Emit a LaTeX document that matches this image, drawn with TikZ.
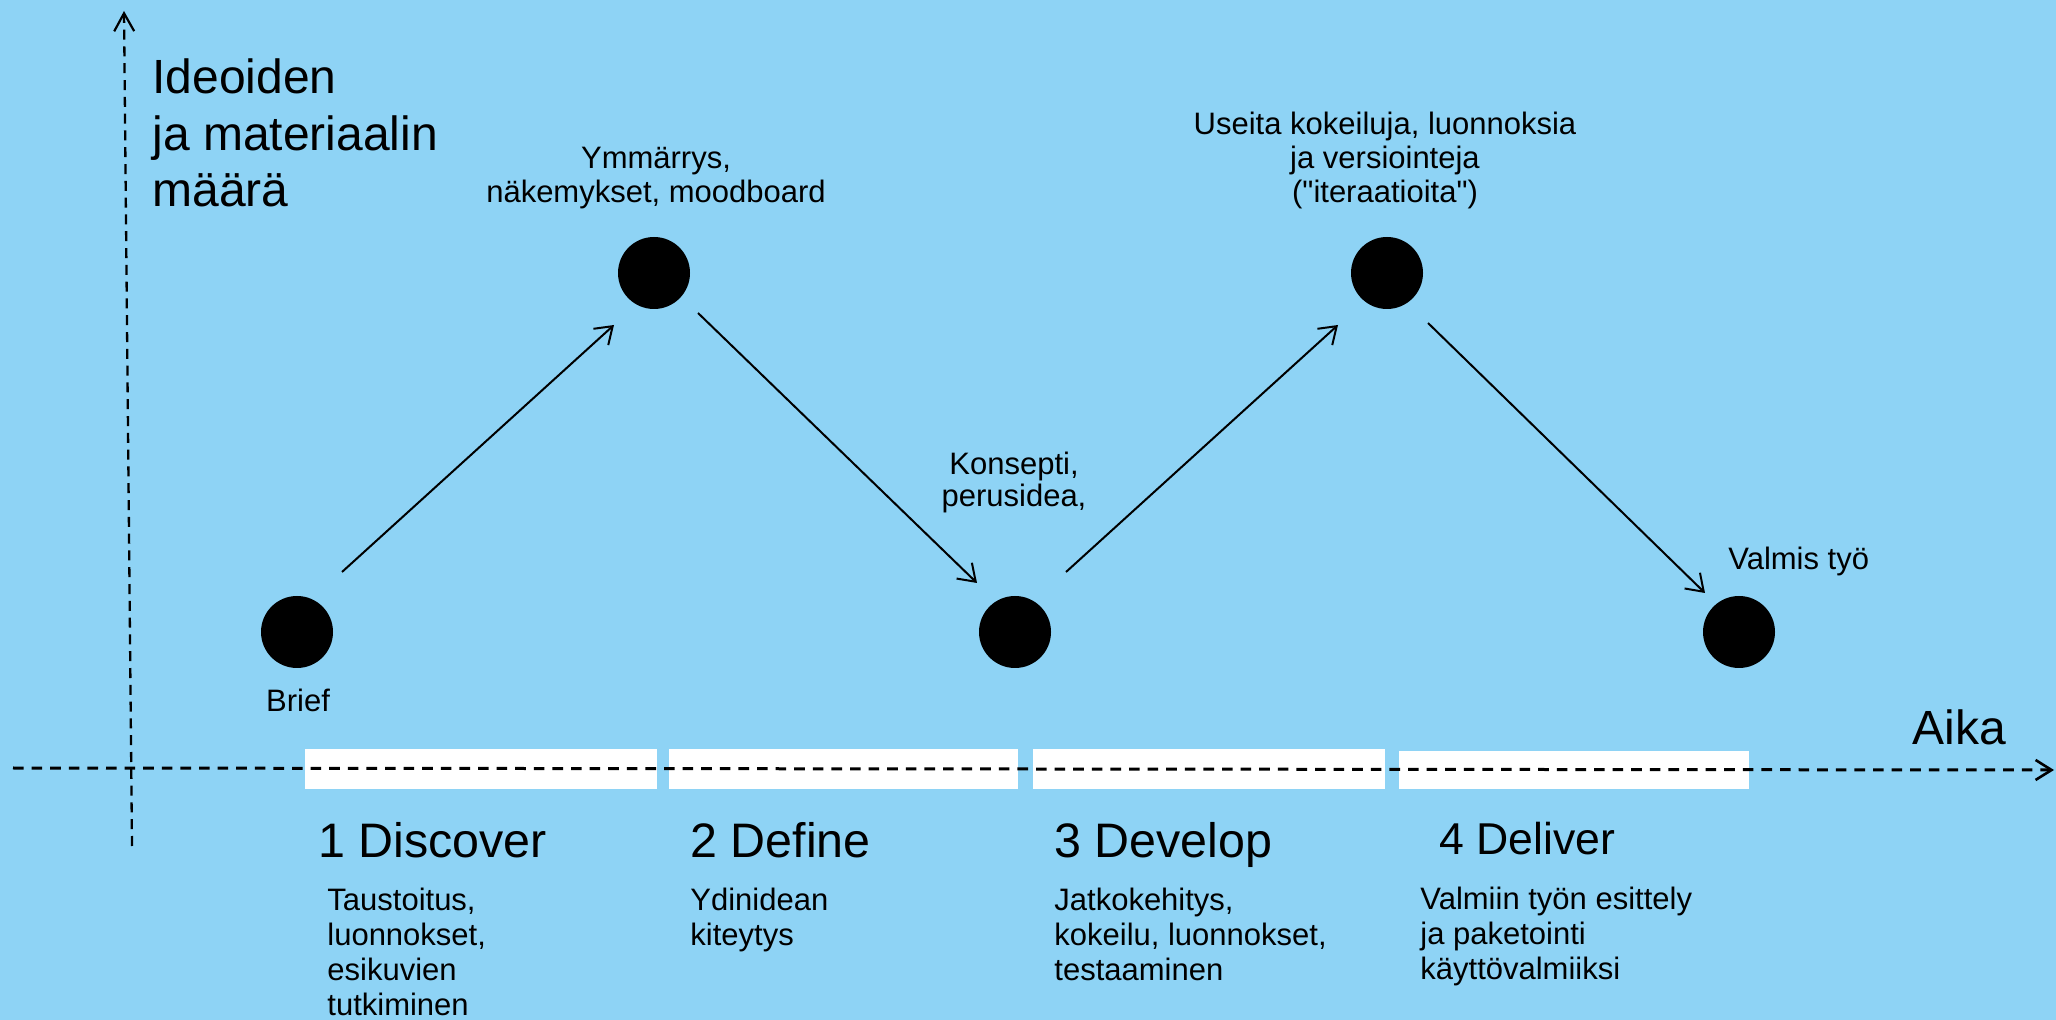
\documentclass[tikz,border=0pt]{standalone}
\usepackage{fontspec}
\setmainfont{Liberation Sans}[Ligatures=TeXOff]
\usetikzlibrary{arrows.meta}
\definecolor{bg}{HTML}{8ED3F5}
\begin{document}
\begin{tikzpicture}[x=0.5pt,y=-0.5pt,
  dot/.style={circle,fill=black,inner sep=0pt,minimum size=36pt},
  bar/.style={fill=white,draw=none},
  small/.style={font=\fontsize{15.5}{17}\selectfont,inner sep=0pt},
  desc/.style={font=\fontsize{15.5}{17.5}\selectfont,inner sep=0pt,anchor=base west,align=left},
  big/.style={font=\fontsize{24.2}{29}\selectfont,inner sep=0pt,anchor=base west},
  huge/.style={font=\fontsize{24}{28.25}\selectfont,inner sep=0pt,anchor=base west},
  flow/.style={line width=1pt,-{Straight Barb[length=8pt,width=11pt,line width=1pt]}},
  vaxis/.style={line width=1.15pt,dash pattern=on 5pt off 3.4pt,-{Straight Barb[length=9pt,width=10pt,line width=1.1pt]}},
  haxis/.style={line width=1.5pt,dash pattern=on 5.3pt off 4pt,-{Straight Barb[length=8pt,width=10pt,line width=1.3pt]}}
]
\useasboundingbox (0,0) rectangle (2056,1020);
\fill[bg] (0,0) rectangle (2056,1020);

% phase bars
\fill[bar] (305,749) rectangle (657,789);
\fill[bar] (669,749) rectangle (1018,789);
\fill[bar] (1033,749) rectangle (1385,789);
\fill[bar] (1399,751) rectangle (1749,789);

% axes
\coordinate (vs) at (132,846);
\coordinate (ve) at (124,11);
\coordinate (hs) at (13,768);
\coordinate (he) at (2054,770);
\draw[vaxis] (vs) -- (ve);
\draw[haxis] (hs) -- (he);

% dots
\node[dot] (c1) at (297,632) {};
\node[dot] (c2) at (654,273) {};
\node[dot] (c3) at (1015,632) {};
\node[dot] (c4) at (1387,273) {};
\node[dot] (c5) at (1739,632) {};

% arrows
\draw[flow] ([shift={(45,-60)}]c1.center) -- ([shift={(-40,52)}]c2.center);
\draw[flow] ([shift={(44,40)}]c2.center) -- ([shift={(-38,-49)}]c3.center);
\draw[flow] ([shift={(51,-60)}]c3.center) -- ([shift={(-49,52)}]c4.center);
\draw[flow] ([shift={(41,50)}]c4.center) -- ([shift={(-34,-39)}]c5.center);

% axis labels (base = last line)
\node[huge,align=left] (ylab) at (152,207) {Ideoiden\\ja materiaalin\\määrä};
\node[huge] (xlab) at (1912,745) {Aika};

% point labels
\node[small,anchor=base,align=center] (l2) at (656,203) {Ymmärrys,\\näkemykset, moodboard};
\node[small,anchor=base,align=center] (l4) at (1385,203) {Useita kokeiluja, luonnoksia\\ja versiointeja\\("iteraatioita")};
\node[small,anchor=base,align=center,font=\fontsize{15.5}{16}\selectfont] (l3) at (1014,507) {Konsepti,\\perusidea,};
\node[small,anchor=base west] (l5) at (1728,570) {Valmis työ};
\node[small,anchor=base] (l1) at (298,712) {Brief};

% phase titles
\node[big] (p1) at (318,857) {1 Discover};
\node[big] (p2) at (690,857) {2 Define};
\node[big] (p3) at (1054,857) {3 Develop};
\node[big,font=\fontsize{22.3}{27}\selectfont] (p4) at (1439,855) {4 Deliver};

% phase descriptions (base = last line)
\node[desc] (d1) at (327,1015) {Taustoitus,\\luonnokset,\\esikuvien\\tutkiminen};
\node[desc] (d2) at (690,945) {Ydinidean\\kiteytys};
\node[desc] (d3) at (1054,980) {Jatkokehitys,\\kokeilu, luonnokset,\\testaaminen};
\node[desc] (d4) at (1420,979) {Valmiin työn esittely\\ja paketointi\\käyttövalmiiksi};
\end{tikzpicture}
\end{document}
